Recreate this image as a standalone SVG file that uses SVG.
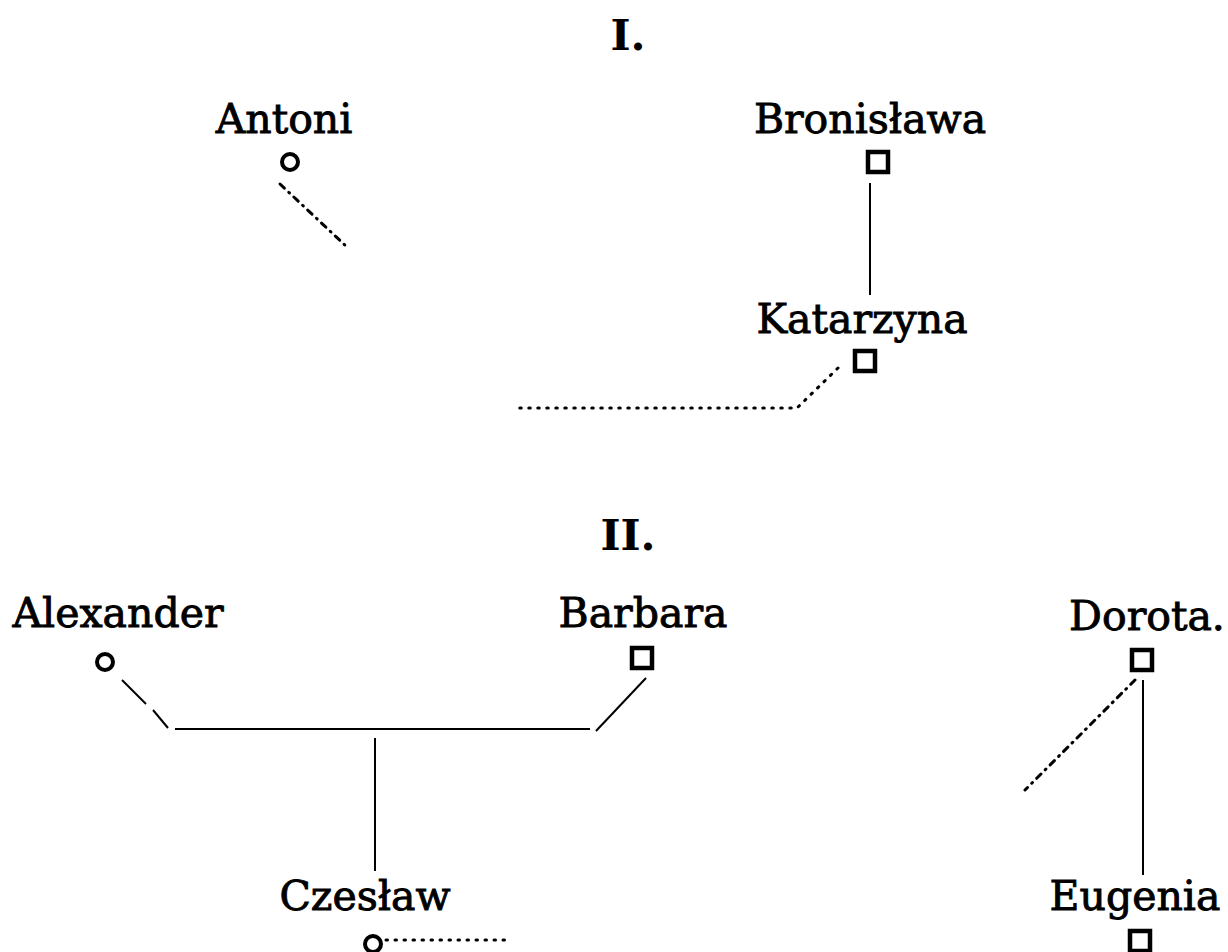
<svg xmlns="http://www.w3.org/2000/svg" width="1228" height="952" viewBox="0 0 1228 952">
<style>
text{font-family:"DejaVu Serif","Liberation Serif",serif;font-size:41px;fill:#000;text-anchor:middle;stroke:#000;stroke-width:0.9}
.num{font-size:43px;font-weight:bold;stroke-width:0}
.circ{fill:none;stroke:#000;stroke-width:4}
.sq{fill:none;stroke:#000;stroke-width:4.5}
.solid{fill:none;stroke:#000;stroke-width:2}
.dot{fill:none;stroke:#000;stroke-width:3;stroke-linecap:round;stroke-dasharray:1.5 7.5}
.dashdot{fill:none;stroke:#000;stroke-width:3;stroke-linecap:round;stroke-dasharray:6 6 1 6}
</style>
<rect width="1228" height="952" fill="#fff"/>
<text class="num" x="628" y="50">I.</text>
<text class="num" x="628" y="550">II.</text>
<g id="antoni"><text x="284" y="133">Antoni</text><circle class="circ" cx="290" cy="162" r="8"/></g>
<g id="bronislawa"><text x="870" y="133">Bronisława</text><rect class="sq" x="868" y="152" width="20" height="20"/></g>
<g id="katarzyna"><text x="862" y="333">Katarzyna</text><rect class="sq" x="855" y="351" width="20" height="20"/></g>
<g id="alexander"><text x="118" y="627">Alexander</text><circle class="circ" cx="105" cy="662" r="8"/></g>
<g id="barbara"><text x="643" y="627">Barbara</text><rect class="sq" x="632" y="648" width="20" height="20"/></g>
<g id="dorota"><text x="1147" y="630">Dorota.</text><rect class="sq" x="1132" y="650" width="20" height="20"/></g>
<g id="czeslaw"><text x="365" y="910">Czesław</text><circle class="circ" cx="373" cy="944" r="8"/></g>
<g id="eugenia"><text x="1135" y="910">Eugenia</text><rect class="sq" x="1130" y="931" width="20" height="20"/></g>
<g id="connectors">
<line class="dashdot" x1="280" y1="184" x2="348" y2="248"/>
<line class="solid" x1="870" y1="183" x2="870" y2="295"/>
<polyline class="dot" points="838,368 797,408 518,408"/>
<polyline class="solid" points="122,680 146,704"/>
<polyline class="solid" points="153,710 168,728"/>
<line class="solid" x1="175" y1="729" x2="590" y2="729"/>
<line class="solid" x1="646" y1="678" x2="596" y2="731"/>
<line class="solid" x1="375" y1="738" x2="375" y2="871"/>
<line class="dot" x1="386" y1="940" x2="505" y2="940"/>
<line class="solid" x1="1143" y1="680" x2="1143" y2="875"/>
<line class="dashdot" x1="1135" y1="680" x2="1025" y2="790"/>
</g>
</svg>
